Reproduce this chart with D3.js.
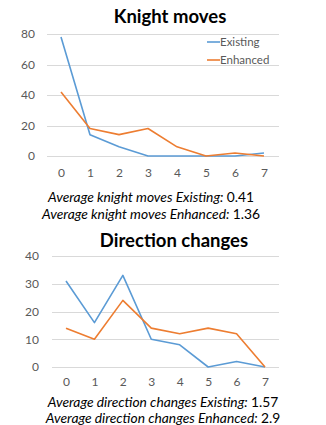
<!DOCTYPE html>
<html>
<head>
<meta charset="utf-8">
<script src="https://cdn.jsdelivr.net/npm/d3@7"></script>
<style>
  html, body { margin: 0; padding: 0; background: #fff; }
  svg { display: block; font-family: Lato, "Open Sans", sans-serif; }
</style>
</head>
<body>
<svg id="chart" width="326" height="425"></svg>
<script>
// Move counts 0..7 on the x axis
const moveCounts = [0, 1, 2, 3, 4, 5, 6, 7];

// Knight moves distribution (%)
const knightExisting = [78, 14, 6, 0, 0, 0, 0, 2];
const knightEnhanced = [42, 18, 14, 18, 6, 0, 2, 0];
const knightTicks = [0, 20, 40, 60, 80];

// Direction changes distribution (%)
const directionExisting = [31, 16, 33, 10, 8, 0, 2, 0];
const directionEnhanced = [14, 10, 24, 14, 12, 14, 12, 0];
const directionTicks = [0, 10, 20, 30, 40];

const seriesNames = ["Existing", "Enhanced"];
const seriesColors = ["#5B9BD5", "#ED7D31"];

const knightAverages = [
  { label: "Average knight moves Existing:", value: "0.41" },
  { label: "Average knight moves Enhanced:", value: "1.36" }
];
const directionAverages = [
  { label: "Average direction changes Existing:", value: "1.57" },
  { label: "Average direction changes Enhanced:", value: "2.9" }
];

const svg = d3.select("#chart");

function drawPanel(cfg) {
  const g = svg.append("g");
  const x = d3.scalePoint().domain(moveCounts).range([cfg.x0, cfg.x1]);
  const y = d3.scaleLinear().domain([0, cfg.ticks[cfg.ticks.length - 1]]).range([cfg.yBottom, cfg.yTop]);

  // title
  g.append("text")
    .attr("x", cfg.titleX).attr("y", cfg.titleY)
    .attr("text-anchor", "middle")
    .attr("font-size", 18.5).attr("font-weight", "bold")
    .attr("fill", "#000")
    .text(cfg.title);

  // horizontal gridlines
  g.selectAll("line.grid").data(cfg.ticks).join("line")
    .attr("x1", cfg.gridX0).attr("x2", cfg.gridX1)
    .attr("y1", d => Math.round(y(d)) + 0.5).attr("y2", d => Math.round(y(d)) + 0.5)
    .attr("stroke", "#D9D9D9").attr("stroke-width", 1);

  // y axis labels
  const yAxis = d3.axisLeft(y).tickValues(cfg.ticks).tickSize(0).tickPadding(0);
  const ya = g.append("g").attr("transform", `translate(${cfg.yLabelX},0)`).call(yAxis);
  ya.select(".domain").remove();
  ya.selectAll("text").attr("font-size", 12).attr("fill", "#595959")
    .attr("font-family", "Lato, sans-serif");

  // x axis labels
  const xAxis = d3.axisBottom(x).tickSize(0).tickPadding(0);
  const xa = g.append("g").attr("transform", `translate(0,${cfg.xLabelY})`).call(xAxis);
  xa.select(".domain").remove();
  xa.selectAll("text").attr("font-size", 12).attr("fill", "#595959")
    .attr("font-family", "Lato, sans-serif").attr("dy", "0.35em");

  // series lines
  const line = d3.line().x((d, i) => x(moveCounts[i])).y(d => y(d));
  cfg.series.forEach((vals, i) => {
    g.append("path").datum(vals)
      .attr("d", line)
      .attr("fill", "none")
      .attr("stroke", seriesColors[i])
      .attr("stroke-width", 1.6)
      .attr("stroke-linejoin", "round");
  });

  // legend
  if (cfg.legend) {
    seriesNames.forEach((name, i) => {
      const ly = cfg.legend.y + i * cfg.legend.step;
      g.append("line")
        .attr("x1", cfg.legend.x).attr("x2", cfg.legend.x + 13)
        .attr("y1", ly).attr("y2", ly)
        .attr("stroke", seriesColors[i]).attr("stroke-width", 1.6);
      g.append("text")
        .attr("x", cfg.legend.x + 13).attr("y", ly).attr("dy", "0.35em")
        .attr("font-size", 11.5).attr("fill", "#595959")
        .text(name);
    });
  }

  // averages beneath the chart
  cfg.averages.forEach((a, i) => {
    const t = g.append("text")
      .attr("x", cfg.avgX).attr("y", cfg.avgY + i * cfg.avgStep)
      .attr("dy", "0.35em")
      .attr("text-anchor", "middle")
      .attr("font-size", 13.8).attr("fill", "#000");
    t.append("tspan").attr("font-style", "italic").text(a.label + " ");
    t.append("tspan").text(a.value);
  });
}

drawPanel({
  title: "Knight moves", titleX: 170, titleY: 22.5,
  ticks: knightTicks,
  x0: 61, x1: 264, yTop: 34, yBottom: 156,
  gridX0: 47, gridX1: 279,
  yLabelX: 35, xLabelY: 173,
  series: [knightExisting, knightEnhanced],
  legend: { x: 207, y: 42, step: 18 },
  averages: knightAverages, avgX: 151, avgY: 197, avgStep: 17
});

drawPanel({
  title: "Direction changes", titleX: 174, titleY: 247,
  ticks: directionTicks,
  x0: 66, x1: 265, yTop: 256, yBottom: 367,
  gridX0: 52, gridX1: 279,
  yLabelX: 39, xLabelY: 382,
  series: [directionExisting, directionEnhanced],
  legend: null,
  averages: directionAverages, avgX: 163, avgY: 402, avgStep: 16.5
});
</script>
</body>
</html>
